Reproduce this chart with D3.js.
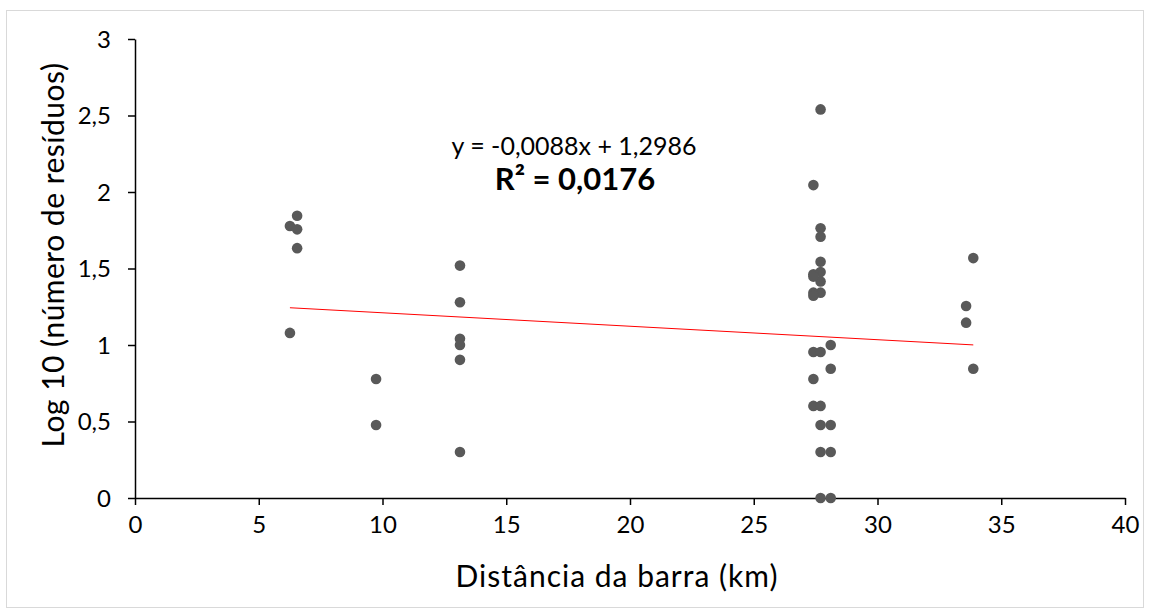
<!DOCTYPE html>
<html>
<head>
<meta charset="utf-8">
<script src="https://cdn.jsdelivr.net/npm/d3@7"></script>
<style>
  body { margin: 0; background: #fff; }
  svg { display: block; font-family: Lato, "Open Sans", sans-serif; }
</style>
</head>
<body>
<svg id="chart" width="1149" height="614"></svg>
<script>
// distance (km) and log10 of the residue count
var distX = [
  6.26, 6.55, 6.55, 6.55, 6.26,
  9.74, 9.74,
  13.13, 13.13, 13.13, 13.13, 13.13, 13.13,
  27.70, 27.41, 27.70, 27.70, 27.70, 27.70, 27.70, 27.70,
  27.41, 27.41, 27.41, 27.41,
  28.11, 27.41, 27.70, 28.11, 27.41, 27.41, 27.70,
  27.70, 28.11, 27.70, 28.11, 27.70, 28.11,
  33.87, 33.58, 33.58, 33.87
]
var logY = [
  1.778, 1.845, 1.756, 1.633, 1.079,
  0.778, 0.477,
  1.519, 1.279, 1.041, 1.000, 0.903, 0.301,
  2.540, 2.045, 1.763, 1.708, 1.544, 1.477, 1.415, 1.342,
  1.462, 1.447, 1.342, 1.322,
  1.000, 0.954, 0.954, 0.845, 0.778, 0.602, 0.602,
  0.477, 0.477, 0.301, 0.301, 0.000, 0.000,
  1.568, 1.255, 1.146, 0.845
]
var xTicks = [0, 5, 10, 15, 20, 25, 30, 35, 40]
var yTicks = [0, 0.5, 1, 1.5, 2, 2.5, 3]
var slope = -0.0088
var intercept = 1.2986

var svg = d3.select("#chart")

// outer frame
svg.append("rect")
  .attr("x", 6.5).attr("y", 10.5)
  .attr("width", 1137).attr("height", 597)
  .attr("fill", "none")
  .attr("stroke", "#d9d9d9")

var x = d3.scaleLinear().domain([0, 40]).range([135, 1125])
var y = d3.scaleLinear().domain([0, 3]).range([498, 39])

var fmt = function(d) { return String(d).replace(".", ",") }

var xAxis = svg.append("g")
  .attr("transform", "translate(0," + y(0) + ")")
  .call(d3.axisBottom(x).tickValues(xTicks).tickFormat(fmt).tickSize(7).tickSizeOuter(0))
var yAxis = svg.append("g")
  .attr("transform", "translate(" + x(0) + ",0)")
  .call(d3.axisLeft(y).tickValues(yTicks).tickFormat(fmt).tickSize(7).tickSizeOuter(0))

svg.selectAll(".domain, .tick line").attr("stroke", "#000").attr("stroke-width", 1.5)
svg.selectAll(".tick text")
  .attr("fill", "#000")
  .style("font-size", "24px")
  .style("font-family", "Lato, sans-serif")
xAxis.selectAll(".tick text").attr("y", 12).attr("dy", "0.95em")
yAxis.selectAll(".tick text").attr("x", -24).attr("dy", "0.35em")

// trend line across the range of the data
var x0 = d3.min(distX), x1 = d3.max(distX)
svg.append("line")
  .attr("x1", x(x0)).attr("y1", y(slope * x0 + intercept))
  .attr("x2", x(x1)).attr("y2", y(slope * x1 + intercept))
  .attr("stroke", "#ff0000")
  .attr("stroke-width", 1)

svg.append("g").selectAll("circle")
  .data(distX)
  .join("circle")
  .attr("cx", function(d) { return x(d) })
  .attr("cy", function(d, i) { return y(logY[i]) })
  .attr("r", 5.3)
  .attr("fill", "#595959")

// equation labels
svg.append("text")
  .attr("x", 574).attr("y", 155)
  .attr("text-anchor", "middle")
  .style("font-size", "25px")
  .text("y = -0,0088x + 1,2986")
svg.append("text")
  .attr("x", 575).attr("y", 190)
  .attr("text-anchor", "middle")
  .style("font-size", "31px")
  .style("font-weight", "bold")
  .text("R² = 0,0176")

// axis titles
svg.append("text")
  .attr("x", 617).attr("y", 587)
  .attr("text-anchor", "middle")
  .style("font-size", "30px")
  .style("letter-spacing", "1px")
  .text("Distância da barra (km)")
svg.append("text")
  .attr("transform", "translate(64,255) rotate(-90)")
  .attr("text-anchor", "middle")
  .style("font-size", "30px")
  .style("letter-spacing", "0.5px")
  .text("Log 10 (número de resíduos)")
</script>
</body>
</html>
